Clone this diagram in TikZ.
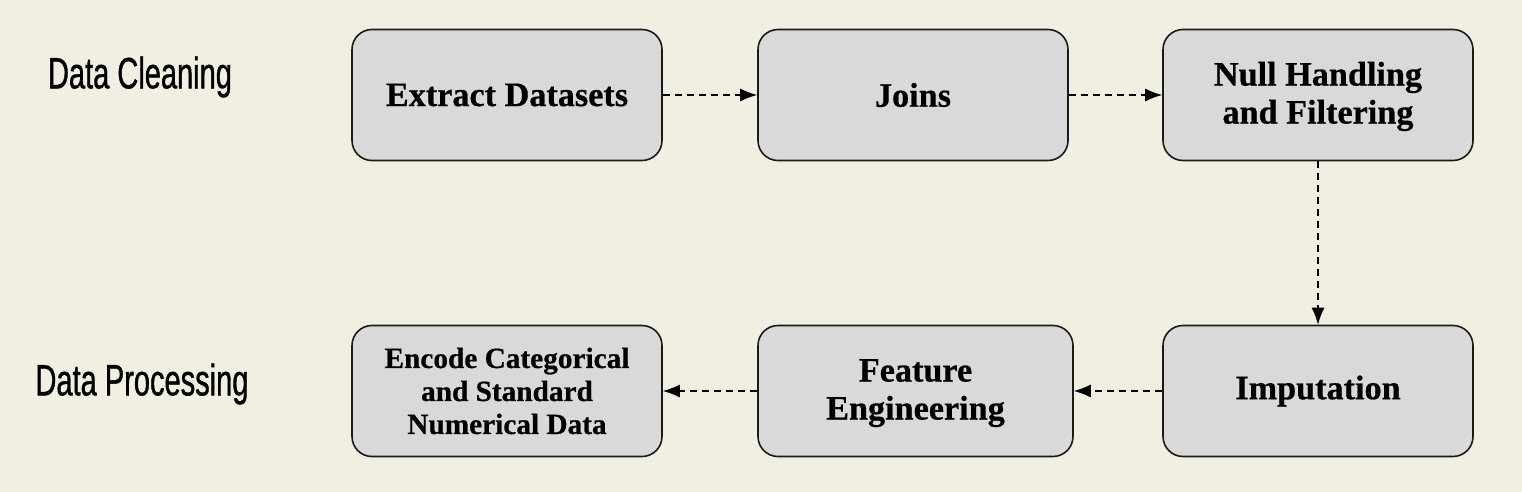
\documentclass[tikz,border=0pt]{standalone}
\usepackage{fontspec}
\setmainfont{Liberation Serif}[BoldFeatures={FakeBold=0.6}]
\newfontfamily\labelfont[FakeStretch=0.66,FakeBold=0.8]{Liberation Sans}
\usetikzlibrary{arrows.meta}
\definecolor{bgc}{HTML}{F1EFE1}
\definecolor{boxc}{HTML}{D9D9D9}
\definecolor{linec}{HTML}{1A1A1A}
\tikzset{
  stagebox/.style={draw=linec, fill=boxc, line width=1.6pt, rounded corners=20pt,
    minimum height=131pt, inner sep=0pt, align=center,
    font=\fontsize{34.2}{38}\selectfont\bfseries},
  flowarrow/.style={draw=black, line width=1.4pt, dash pattern=on 7pt off 5pt,
    -{Latex[length=17pt,width=13pt]}},
  rowlabel/.style={font=\labelfont\fontsize{44}{48}\selectfont, inner sep=0pt}
}
\begin{document}
\begin{tikzpicture}[x=1pt,y=-1pt]
  \fill[bgc] (0,0) rectangle (1522,492);
  \useasboundingbox (0,0) rectangle (1522,492);

  \node[rowlabel] (lclean) at (140,77) {Data Cleaning};
  \node[rowlabel] (lproc) at (142,384) {Data Processing};

  \node[stagebox, minimum width=310pt] (extract) at (507,95) {Extract Datasets};
  \node[stagebox, minimum width=310pt] (joins) at (913,95) {Joins};
  \node[stagebox, minimum width=310pt] (null) at (1318,95) {\strut Null Handling\\and Filtering};
  \node[stagebox, minimum width=310pt] (imput) at (1318,391) {Imputation};
  \node[stagebox, minimum width=315pt] (feat) at (915.5,391) {\strut Feature\\Engineering};
  \node[stagebox, minimum width=310pt, font=\fontsize{29.3}{33}\selectfont\bfseries] (enc) at (507,391) {Encode Categorical\\and Standard\\Numerical Data};

  \draw[flowarrow] (extract) -- (joins);
  \draw[flowarrow] (joins) -- (null);
  \draw[flowarrow] (null) -- (imput);
  \draw[flowarrow] (imput) -- (feat);
  \draw[flowarrow] (feat) -- (enc);
\end{tikzpicture}
\end{document}
